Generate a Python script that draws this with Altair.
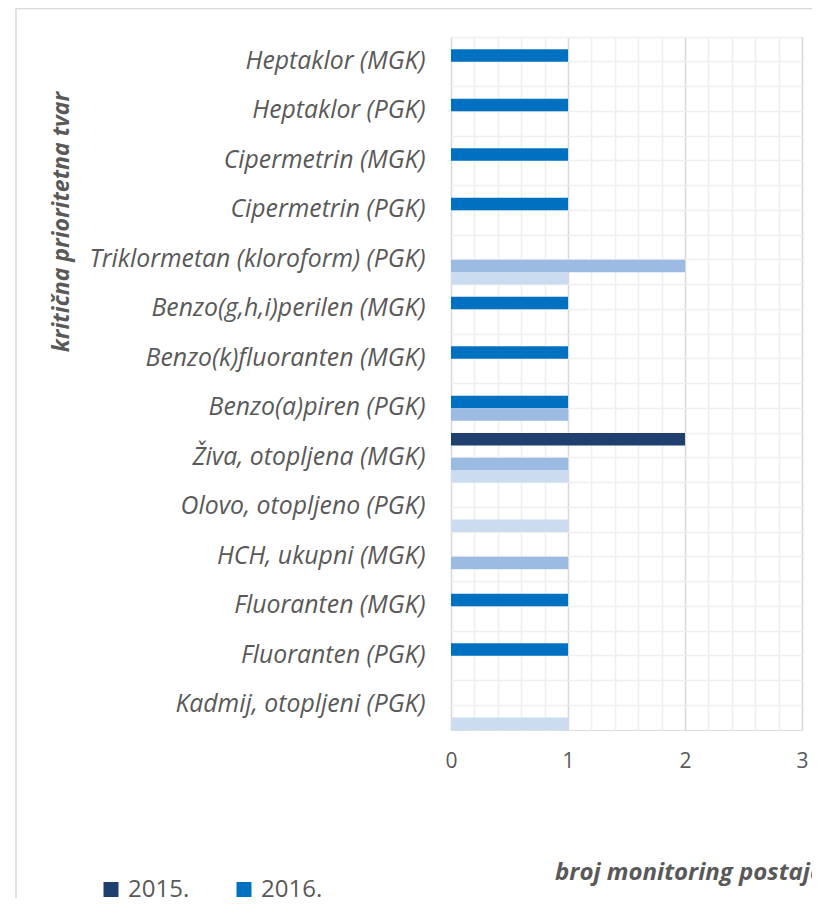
import altair as alt
import pandas as pd

categories = [
    "Heptaklor (MGK)",
    "Heptaklor (PGK)",
    "Cipermetrin (MGK)",
    "Cipermetrin (PGK)",
    "Triklormetan (kloroform) (PGK)",
    "Benzo(g,h,i)perilen (MGK)",
    "Benzo(k)fluoranten (MGK)",
    "Benzo(a)piren (PGK)",
    "Živa, otopljena (MGK)",
    "Olovo, otopljeno (PGK)",
    "HCH, ukupni (MGK)",
    "Fluoranten (MGK)",
    "Fluoranten (PGK)",
    "Kadmij, otopljeni (PGK)",
]
years = ["2015.", "2016.", "2017.", "2018."]
colors = ["#1F3F6E", "#0070C0", "#9BBBE3", "#CCDCF0"]

v2015 = [0, 0, 0, 0, 0, 0, 0, 0, 2, 0, 0, 0, 0, 0]
v2016 = [1, 1, 1, 1, 0, 1, 1, 1, 0, 0, 0, 1, 1, 0]
v2017 = [0, 0, 0, 0, 2, 0, 0, 1, 1, 0, 1, 0, 0, 0]
v2018 = [0, 0, 0, 0, 1, 0, 0, 0, 1, 1, 0, 0, 0, 1]

x_ticks = [0, 0.2, 0.4, 0.6, 0.8, 1, 1.2, 1.4, 1.6, 1.8, 2, 2.2, 2.4, 2.6, 2.8, 3]

rows = []
for yr, vals in zip(years, [v2015, v2016, v2017, v2018]):
    for c, v in zip(categories, vals):
        rows.append({"kategorija": c, "godina": yr, "broj": v})
df = pd.DataFrame(rows)

FONT = "Open Sans"
GRAY = "#595959"
is_int = "abs(datum.value - round(datum.value)) < 0.001"

yscale = alt.Scale(domain=categories, paddingInner=0, paddingOuter=0)

bars = alt.Chart(df).mark_bar(size=12.4).encode(
    x=alt.X(
        "broj:Q",
        scale=alt.Scale(domain=[0, 3], nice=False),
        axis=alt.Axis(
            values=x_ticks,
            title=None,
            grid=True,
            gridColor={"condition": {"test": is_int, "value": "#D9D9D9"}, "value": "#EFEFEF"},
            gridWidth=1.6,
            ticks=False,
            domain=False,
            labelExpr=is_int + " ? format(datum.value, 'd') : ''",
            labelFont=FONT,
            labelFontSize=21,
            labelColor=GRAY,
            labelPadding=20,
            labelFlush=False,
        ),
    ),
    y=alt.Y(
        "kategorija:N",
        sort=categories,
        scale=yscale,
        axis=alt.Axis(
            orient="left",
            title=None,
            ticks=False,
            domain=False,
            grid=True,
            bandPosition=0,
            gridColor="#EFEFEF",
            gridWidth=1.6,
            labelFont=FONT,
            labelFontSize=24.8,
            labelFontStyle="italic",
            labelColor=GRAY,
            labelPadding=26,
            labelLimit=440,
        ),
    ),
    yOffset=alt.YOffset("godina:N", sort=years, scale=alt.Scale(domain=years, paddingInner=0, paddingOuter=0)),
    color=alt.Color(
        "godina:N",
        scale=alt.Scale(domain=years, range=colors),
        legend=alt.Legend(
            values=["2015.", "2016."],
            title=None,
            orient="none",
            direction="horizontal",
            legendX=-352,
            legendY=840.5,
            padding=0,
            symbolType="square",
            symbolSize=225,
            symbolStrokeWidth=0,
            labelFont=FONT,
            labelFontSize=24,
            labelColor=GRAY,
            columnPadding=42,
            labelOffset=5,
        ),
    ),
)

mid_grid = alt.Chart(pd.DataFrame({"kategorija": categories})).mark_tick(opacity=0).encode(
    y=alt.Y(
        "kategorija:N",
        sort=categories,
        scale=yscale,
        axis=alt.Axis(
            orient="right",
            title=None,
            labels=False,
            ticks=False,
            domain=False,
            grid=True,
            bandPosition=0.5,
            gridColor="#EFEFEF",
            gridWidth=1.6,
        ),
    ),
)

ytitle = alt.Chart(pd.DataFrame({"t": ["kritična prioritetna tvar"]})).mark_text(
    angle=270, font=FONT, fontSize=23, fontStyle="italic", fontWeight="bold", color=GRAY, align="center", baseline="middle"
).encode(x=alt.value(-389), y=alt.value(185), text="t:N")

xtitle = alt.Chart(pd.DataFrame({"t": ["broj monitoring postaja"]})).mark_text(
    font=FONT, fontSize=24, fontStyle="italic", fontWeight="bold", color=GRAY, align="left", baseline="middle"
).encode(x=alt.value(104), y=alt.value(836), text="t:N")

frame_left = alt.Chart(pd.DataFrame({"a": [0]})).mark_rule(color="#D9D9D9", strokeWidth=1.5).encode(
    x=alt.value(-435), y=alt.value(-29), y2=alt.value(870)
)
frame_top = alt.Chart(pd.DataFrame({"a": [0]})).mark_rule(color="#D9D9D9", strokeWidth=1.5).encode(
    x=alt.value(-435.5), x2=alt.value(400), y=alt.value(-28.5)
)

chart = (
    alt.layer(bars, mid_grid, ytitle, xtitle, frame_left, frame_top)
    .resolve_axis(y="independent")
    .properties(
        width=351,
        height=693,
        autosize=alt.AutoSizeParams(type="none"),
        padding={"left": 443, "top": 29, "right": 10, "bottom": 168},
    )
    .configure_view(stroke="#D9D9D9", strokeWidth=1.5)
    .configure(background="white")
)

chart.save("out.html", embed_options={"renderer": "svg", "actions": False})
